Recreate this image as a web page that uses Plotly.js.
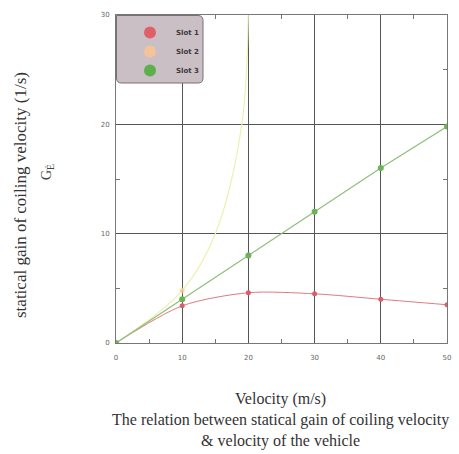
<!DOCTYPE html>
<html>
<head>
<meta charset="utf-8">
<script src="https://cdn.plot.ly/plotly-3.0.1.min.js"></script>
<style>html,body{margin:0;padding:0;background:#fff;}#chart{width:459px;height:454px;}</style>
</head>
<body>
<div id="chart"></div>
<script>
// Data
const slot1X = [0, 10, 20, 30, 40, 50];
const slot1Y = [0, 3.4, 4.6, 4.5, 4.0, 3.5];
const slot2X = [0, 10, 15, 19, 20];
const slot2Y = [0, 4.8, 10, 20, 31];
const slot2Measured = [true, true, false, false, false];
const slot3X = [0, 10, 20, 30, 40, 50];
const slot3Y = [0, 4.0, 8.0, 12.0, 16.0, 19.8];
const seriesNames = ['Slot 1', 'Slot 2', 'Slot 3'];
const legendColors = ['#e0606a', '#f3c49a', '#5cb04a'];
const xTicks = [0, 10, 20, 30, 40, 50];
const yTicks = [0, 10, 20, 30];

const serif = 'Liberation Serif, Times New Roman, serif';

const traces = [
  {x: slot1X, y: slot1Y, name: seriesNames[0], mode: 'lines+markers', showlegend: false,
   line: {color: '#e07a80', width: 1, shape: 'spline', smoothing: 0.8},
   marker: {color: '#d9606a', size: 5}},
  {x: slot2X, y: slot2Y, name: seriesNames[1], mode: 'lines+markers', showlegend: false,
   line: {color: '#eef0b0', width: 1.2, shape: 'spline'},
   marker: {color: '#f3c08c', size: slot2Measured.map(m => m ? 5 : 0)}},
  {x: slot3X, y: slot3Y, name: seriesNames[2], mode: 'lines+markers', showlegend: false,
   line: {color: '#8cc07a', width: 1.2},
   marker: {color: '#6db257', size: 6}}
];
// legend-only entries (circle markers, no line), as in the reference
seriesNames.forEach((n, i) => {
  traces.push({x: [null], y: [null], name: n, mode: 'markers',
    marker: {color: legendColors[i], size: 10}, hoverinfo: 'skip'});
});

const px = q => (q - 116) / 331;
const py = p => (343 - p) / 328;

const layout = {
  width: 459, height: 454,
  margin: {l: 116, r: 12, t: 15, b: 111},
  paper_bgcolor: '#ffffff', plot_bgcolor: '#ffffff',
  showlegend: true,
  legend: {x: px(124), y: py(18), xanchor: 'left', yanchor: 'top',
    bgcolor: 'rgba(0,0,0,0)', borderwidth: 0,
    font: {family: 'DejaVu Sans, sans-serif', size: 7, color: '#3a3a3a', weight: 'bold'},
    itemsizing: 'constant', itemwidth: 42, tracegroupgap: 0},
  shapes: [{type: 'path', xref: 'paper', yref: 'paper', layer: 'above',
    path: (() => {
      const x0 = px(116.5), x1 = px(203), y0 = py(15.5), y1 = py(83);
      const rx = 5 / 331, ry = 5 / 328;
      return `M ${x0} ${y0} L ${x1 - rx} ${y0} Q ${x1} ${y0} ${x1} ${y0 - ry} L ${x1} ${y1 + ry} Q ${x1} ${y1} ${x1 - rx} ${y1} L ${x0 + rx} ${y1} Q ${x0} ${y1} ${x0} ${y1 + ry} Z`;
    })(),
    fillcolor: '#cbbfc6', line: {color: '#7a6f76', width: 1}}],
  xaxis: {range: [0, 50], tickvals: xTicks, ticktext: xTicks.map(String),
    showgrid: true, gridcolor: '#555', gridwidth: 1, zeroline: false,
    showline: true, linecolor: '#777', linewidth: 1, mirror: 'ticks',
    ticks: 'inside', ticklen: 0, tickcolor: '#777', ticklabelstandoff: 8,
    minor: {tickvals: [5, 15, 25, 35, 45], ticks: 'inside', ticklen: 4, tickcolor: '#777', showgrid: false},
    tickfont: {family: 'DejaVu Sans, sans-serif', size: 7, color: '#666'},
    fixedrange: true},
  yaxis: {range: [0, 30], tickvals: yTicks, ticktext: yTicks.map(String),
    showgrid: true, gridcolor: '#555', gridwidth: 1, zeroline: false,
    showline: true, linecolor: '#777', linewidth: 1, mirror: 'ticks',
    ticks: 'inside', ticklen: 0, tickcolor: '#777', ticklabelstandoff: 4,
    minor: {tickvals: [5, 15, 25], ticks: 'inside', ticklen: 4, tickcolor: '#777', showgrid: false},
    tickfont: {family: 'DejaVu Sans, sans-serif', size: 7, color: '#666'},
    fixedrange: true},
  annotations: [
    {text: 'statical gain of coiling velocity (1/s)', textangle: -90,
     xref: 'paper', yref: 'paper', x: px(20), y: py(195), xanchor: 'center', yanchor: 'middle',
     showarrow: false, font: {family: serif, size: 17, color: '#333'}},
    {text: 'G<sub>Ė</sub>', textangle: -90,
     xref: 'paper', yref: 'paper', x: px(47), y: py(172), xanchor: 'center', yanchor: 'middle',
     showarrow: false, font: {family: serif, size: 14, color: '#444'}},
    {text: 'Velocity (m/s)<br>The relation between statical gain of coiling velocity<br>&amp; velocity of the vehicle',
     xref: 'paper', yref: 'paper', x: px(280), y: py(420),
     xanchor: 'center', yanchor: 'middle', showarrow: false, align: 'center',
     font: {family: serif, size: 16, color: '#333'}}
  ]
};

Plotly.newPlot('chart', traces, layout, {displayModeBar: false, staticPlot: true});
</script>
</body>
</html>
